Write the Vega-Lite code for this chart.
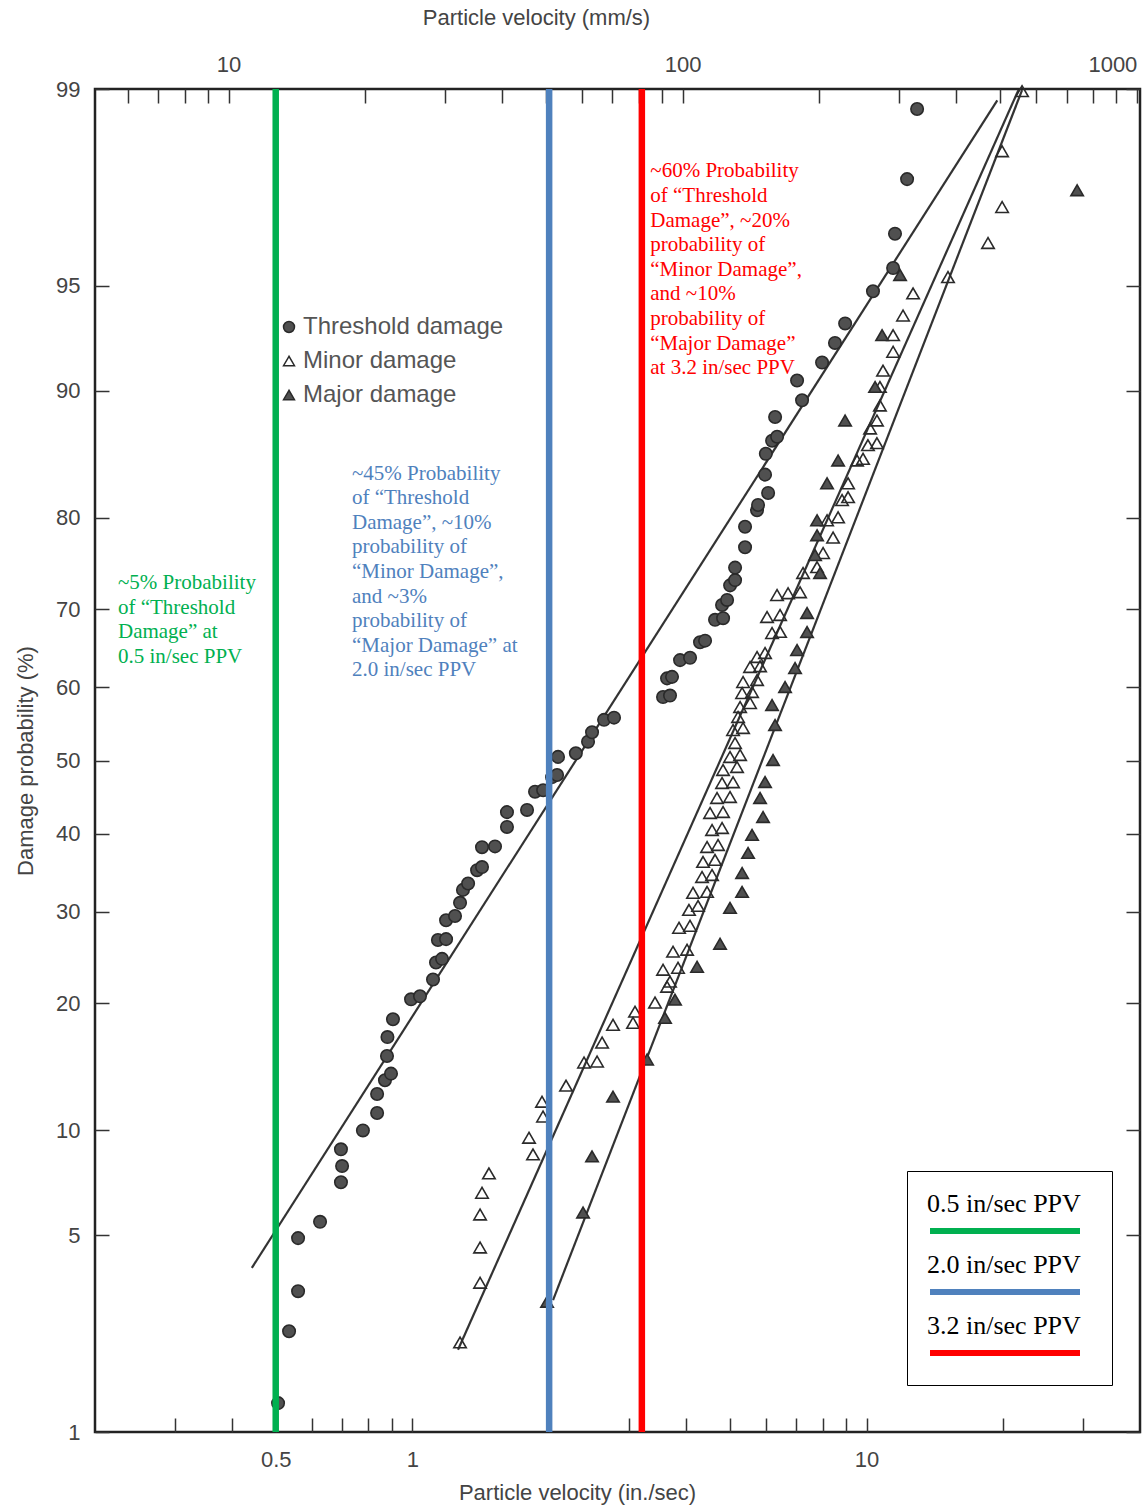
{
  "$schema": "https://vega.github.io/schema/vega-lite/v6.json",
  "width": 1045,
  "height": 1343,
  "autosize": {"type": "none"},
  "padding": {"left": 95, "top": 89, "right": 8, "bottom": 80},
  "background": "white",
  "config": {
    "view": {"stroke": "#222", "strokeWidth": 2.5},
    "font": "Liberation Sans",
    "axis": {
      "grid": false, "domain": false,
      "labelFont": "Liberation Sans", "labelFontSize": 22, "labelColor": "#444",
      "titleFont": "Liberation Sans", "titleFontSize": 22, "titleFontWeight": "normal", "titleColor": "#444",
      "tickColor": "#333", "tickWidth": 1.5, "tickSize": -14, "labelOverlap": false
    }
  },
  "datasets": {
    "fits": [
      {"fit": "Threshold", "v": 0.443, "p": 3.94}, {"fit": "Threshold", "v": 19.4, "p": 98.89},
      {"fit": "Minor", "v": 1.26, "p": 2.06}, {"fit": "Minor", "v": 21.6, "p": 98.99},
      {"fit": "Major", "v": 2.04, "p": 3.08}, {"fit": "Major", "v": 22.0, "p": 98.99}
    ],
    "ppv": [
      {"v": 0.5, "label": "0.5 in/sec PPV"},
      {"v": 2.0, "label": "2.0 in/sec PPV"},
      {"v": 3.2, "label": "3.2 in/sec PPV"}
    ],
    "notes": [
      {"v": 0.2247, "p": 74.3, "label": "0.5 in/sec PPV", "text": "~5% Probability\nof “Threshold\nDamage” at\n0.5 in/sec PPV"},
      {"v": 0.736, "p": 84.9, "label": "2.0 in/sec PPV", "text": "~45% Probability\nof “Threshold\nDamage”, ~10%\nprobability of\n“Minor Damage”,\nand ~3%\nprobability of\n“Major Damage” at\n2.0 in/sec PPV"},
      {"v": 3.34, "p": 98.12, "label": "3.2 in/sec PPV", "text": "~60% Probability\nof “Threshold\nDamage”, ~20%\nprobability of\n“Minor Damage”,\nand ~10%\nprobability of\n“Major Damage”\nat 3.2 in/sec PPV"}
    ],
    "points": [
      {"damage": "Threshold damage", "v": 0.506, "p": 1.3},
      {"damage": "Threshold damage", "v": 0.535, "p": 2.4},
      {"damage": "Threshold damage", "v": 0.56, "p": 3.3},
      {"damage": "Threshold damage", "v": 0.56, "p": 4.9},
      {"damage": "Threshold damage", "v": 0.626, "p": 5.5},
      {"damage": "Threshold damage", "v": 0.696, "p": 7.2},
      {"damage": "Threshold damage", "v": 0.7, "p": 8.0},
      {"damage": "Threshold damage", "v": 0.696, "p": 8.9},
      {"damage": "Threshold damage", "v": 0.778, "p": 10.0},
      {"damage": "Threshold damage", "v": 0.836, "p": 11.1},
      {"damage": "Threshold damage", "v": 0.836, "p": 12.4},
      {"damage": "Threshold damage", "v": 0.87, "p": 13.4},
      {"damage": "Threshold damage", "v": 0.897, "p": 13.9},
      {"damage": "Threshold damage", "v": 0.879, "p": 15.3},
      {"damage": "Threshold damage", "v": 0.881, "p": 16.9},
      {"damage": "Threshold damage", "v": 0.906, "p": 18.5},
      {"damage": "Threshold damage", "v": 0.993, "p": 20.4},
      {"damage": "Threshold damage", "v": 1.039, "p": 20.7},
      {"damage": "Threshold damage", "v": 1.11, "p": 22.4},
      {"damage": "Threshold damage", "v": 1.127, "p": 24.2},
      {"damage": "Threshold damage", "v": 1.162, "p": 24.6},
      {"damage": "Threshold damage", "v": 1.138, "p": 26.7},
      {"damage": "Threshold damage", "v": 1.186, "p": 26.8},
      {"damage": "Threshold damage", "v": 1.186, "p": 29.0},
      {"damage": "Threshold damage", "v": 1.241, "p": 29.5},
      {"damage": "Threshold damage", "v": 1.273, "p": 31.1},
      {"damage": "Threshold damage", "v": 1.292, "p": 32.7},
      {"damage": "Threshold damage", "v": 1.326, "p": 33.5},
      {"damage": "Threshold damage", "v": 1.388, "p": 35.2},
      {"damage": "Threshold damage", "v": 1.423, "p": 35.6},
      {"damage": "Threshold damage", "v": 1.423, "p": 38.2},
      {"damage": "Threshold damage", "v": 1.52, "p": 38.3},
      {"damage": "Threshold damage", "v": 1.615, "p": 40.9},
      {"damage": "Threshold damage", "v": 1.615, "p": 42.9},
      {"damage": "Threshold damage", "v": 1.788, "p": 43.2},
      {"damage": "Threshold damage", "v": 1.862, "p": 45.7},
      {"damage": "Threshold damage", "v": 1.94, "p": 45.9},
      {"damage": "Threshold damage", "v": 2.03, "p": 47.7},
      {"damage": "Threshold damage", "v": 2.082, "p": 48.0},
      {"damage": "Threshold damage", "v": 2.092, "p": 50.5},
      {"damage": "Threshold damage", "v": 2.29, "p": 51.0},
      {"damage": "Threshold damage", "v": 2.436, "p": 52.6},
      {"damage": "Threshold damage", "v": 2.486, "p": 53.9},
      {"damage": "Threshold damage", "v": 2.642, "p": 55.6},
      {"damage": "Threshold damage", "v": 2.779, "p": 55.9},
      {"damage": "Threshold damage", "v": 3.563, "p": 58.7},
      {"damage": "Threshold damage", "v": 3.691, "p": 58.9},
      {"damage": "Threshold damage", "v": 3.636, "p": 61.2},
      {"damage": "Threshold damage", "v": 3.729, "p": 61.4},
      {"damage": "Threshold damage", "v": 3.884, "p": 63.6},
      {"damage": "Threshold damage", "v": 4.086, "p": 63.9},
      {"damage": "Threshold damage", "v": 4.298, "p": 65.9},
      {"damage": "Threshold damage", "v": 4.409, "p": 66.1},
      {"damage": "Threshold damage", "v": 4.638, "p": 68.7},
      {"damage": "Threshold damage", "v": 4.831, "p": 68.9},
      {"damage": "Threshold damage", "v": 4.806, "p": 70.5},
      {"damage": "Threshold damage", "v": 4.93, "p": 71.1},
      {"damage": "Threshold damage", "v": 5.006, "p": 72.8},
      {"damage": "Threshold damage", "v": 5.134, "p": 73.4},
      {"damage": "Threshold damage", "v": 5.134, "p": 74.8},
      {"damage": "Threshold damage", "v": 5.4, "p": 77.0},
      {"damage": "Threshold damage", "v": 5.4, "p": 79.1},
      {"damage": "Threshold damage", "v": 5.738, "p": 80.7},
      {"damage": "Threshold damage", "v": 5.768, "p": 81.2},
      {"damage": "Threshold damage", "v": 6.07, "p": 82.3},
      {"damage": "Threshold damage", "v": 5.976, "p": 83.9},
      {"damage": "Threshold damage", "v": 6.0, "p": 85.6},
      {"damage": "Threshold damage", "v": 6.194, "p": 86.6},
      {"damage": "Threshold damage", "v": 6.353, "p": 86.9},
      {"damage": "Threshold damage", "v": 6.289, "p": 88.3},
      {"damage": "Threshold damage", "v": 7.21, "p": 89.4},
      {"damage": "Threshold damage", "v": 7.03, "p": 90.6},
      {"damage": "Threshold damage", "v": 7.98, "p": 91.6},
      {"damage": "Threshold damage", "v": 8.52, "p": 92.6},
      {"damage": "Threshold damage", "v": 8.97, "p": 93.5},
      {"damage": "Threshold damage", "v": 10.33, "p": 94.8},
      {"damage": "Threshold damage", "v": 11.44, "p": 95.6},
      {"damage": "Threshold damage", "v": 11.55, "p": 96.6},
      {"damage": "Threshold damage", "v": 12.28, "p": 97.8},
      {"damage": "Threshold damage", "v": 12.92, "p": 98.8},
      {"damage": "Minor damage", "v": 1.273, "p": 2.19},
      {"damage": "Minor damage", "v": 1.409, "p": 3.52},
      {"damage": "Minor damage", "v": 1.409, "p": 4.58},
      {"damage": "Minor damage", "v": 1.409, "p": 5.79},
      {"damage": "Minor damage", "v": 1.423, "p": 6.71},
      {"damage": "Minor damage", "v": 1.474, "p": 7.63},
      {"damage": "Minor damage", "v": 1.843, "p": 8.62},
      {"damage": "Minor damage", "v": 1.806, "p": 9.56},
      {"damage": "Minor damage", "v": 1.939, "p": 10.87},
      {"damage": "Minor damage", "v": 1.929, "p": 11.86},
      {"damage": "Minor damage", "v": 2.179, "p": 13.0},
      {"damage": "Minor damage", "v": 2.387, "p": 14.77},
      {"damage": "Minor damage", "v": 2.55, "p": 14.85},
      {"damage": "Minor damage", "v": 2.616, "p": 16.42},
      {"damage": "Minor damage", "v": 2.765, "p": 17.99},
      {"damage": "Minor damage", "v": 3.06, "p": 18.17},
      {"damage": "Minor damage", "v": 3.091, "p": 19.21},
      {"damage": "Minor damage", "v": 3.421, "p": 20.08},
      {"damage": "Minor damage", "v": 3.636, "p": 21.66},
      {"damage": "Minor damage", "v": 3.691, "p": 22.18},
      {"damage": "Minor damage", "v": 3.563, "p": 23.43},
      {"damage": "Minor damage", "v": 3.844, "p": 23.63},
      {"damage": "Minor damage", "v": 3.748, "p": 25.39},
      {"damage": "Minor damage", "v": 4.024, "p": 25.6},
      {"damage": "Minor damage", "v": 3.864, "p": 28.11},
      {"damage": "Minor damage", "v": 4.085, "p": 28.34},
      {"damage": "Minor damage", "v": 4.064, "p": 30.24},
      {"damage": "Minor damage", "v": 4.255, "p": 30.72},
      {"damage": "Minor damage", "v": 4.148, "p": 32.33},
      {"damage": "Minor damage", "v": 4.454, "p": 32.45},
      {"damage": "Minor damage", "v": 4.342, "p": 34.33},
      {"damage": "Minor damage", "v": 4.568, "p": 34.58},
      {"damage": "Minor damage", "v": 4.364, "p": 36.27},
      {"damage": "Minor damage", "v": 4.638, "p": 36.53},
      {"damage": "Minor damage", "v": 4.454, "p": 38.22},
      {"damage": "Minor damage", "v": 4.709, "p": 38.49},
      {"damage": "Minor damage", "v": 4.568, "p": 40.49},
      {"damage": "Minor damage", "v": 4.806, "p": 40.76},
      {"damage": "Minor damage", "v": 4.522, "p": 42.78},
      {"damage": "Minor damage", "v": 4.83, "p": 42.92},
      {"damage": "Minor damage", "v": 4.685, "p": 44.83},
      {"damage": "Minor damage", "v": 5.004, "p": 44.97},
      {"damage": "Minor damage", "v": 4.806, "p": 46.89},
      {"damage": "Minor damage", "v": 5.081, "p": 47.0},
      {"damage": "Minor damage", "v": 4.83, "p": 48.69},
      {"damage": "Minor damage", "v": 5.185, "p": 49.1},
      {"damage": "Minor damage", "v": 5.004, "p": 50.48},
      {"damage": "Minor damage", "v": 5.266, "p": 50.76},
      {"damage": "Minor damage", "v": 5.133, "p": 52.42},
      {"damage": "Minor damage", "v": 5.081, "p": 54.2},
      {"damage": "Minor damage", "v": 5.346, "p": 54.48},
      {"damage": "Minor damage", "v": 5.212, "p": 55.99},
      {"damage": "Minor damage", "v": 5.266, "p": 57.35},
      {"damage": "Minor damage", "v": 5.539, "p": 57.89},
      {"damage": "Minor damage", "v": 5.32, "p": 59.24},
      {"damage": "Minor damage", "v": 5.596, "p": 59.38},
      {"damage": "Minor damage", "v": 5.346, "p": 60.71},
      {"damage": "Minor damage", "v": 5.739, "p": 60.98},
      {"damage": "Minor damage", "v": 5.539, "p": 62.7},
      {"damage": "Minor damage", "v": 5.827, "p": 62.8},
      {"damage": "Minor damage", "v": 5.739, "p": 64.0},
      {"damage": "Minor damage", "v": 5.976, "p": 64.52},
      {"damage": "Minor damage", "v": 6.192, "p": 67.06},
      {"damage": "Minor damage", "v": 6.449, "p": 67.2},
      {"damage": "Minor damage", "v": 6.037, "p": 69.05},
      {"damage": "Minor damage", "v": 6.449, "p": 69.29},
      {"damage": "Minor damage", "v": 6.351, "p": 71.67},
      {"damage": "Minor damage", "v": 6.716, "p": 71.89},
      {"damage": "Minor damage", "v": 7.137, "p": 72.0},
      {"damage": "Minor damage", "v": 7.246, "p": 74.2},
      {"damage": "Minor damage", "v": 7.78, "p": 74.85},
      {"damage": "Minor damage", "v": 8.021, "p": 76.38},
      {"damage": "Minor damage", "v": 8.438, "p": 78.0},
      {"damage": "Minor damage", "v": 8.184, "p": 79.73},
      {"damage": "Minor damage", "v": 8.655, "p": 80.02},
      {"damage": "Minor damage", "v": 8.831, "p": 81.65},
      {"damage": "Minor damage", "v": 9.105, "p": 81.92},
      {"damage": "Minor damage", "v": 9.105, "p": 83.15},
      {"damage": "Minor damage", "v": 9.528, "p": 85.07},
      {"damage": "Minor damage", "v": 9.822, "p": 85.2},
      {"damage": "Minor damage", "v": 10.07, "p": 86.27},
      {"damage": "Minor damage", "v": 10.54, "p": 86.42},
      {"damage": "Minor damage", "v": 10.18, "p": 87.5},
      {"damage": "Minor damage", "v": 10.54, "p": 88.06},
      {"damage": "Minor damage", "v": 10.7, "p": 89.06},
      {"damage": "Minor damage", "v": 10.7, "p": 90.22},
      {"damage": "Minor damage", "v": 10.87, "p": 91.16},
      {"damage": "Minor damage", "v": 11.44, "p": 92.16},
      {"damage": "Minor damage", "v": 11.44, "p": 92.97},
      {"damage": "Minor damage", "v": 12.03, "p": 93.84},
      {"damage": "Minor damage", "v": 12.66, "p": 94.72},
      {"damage": "Minor damage", "v": 15.11, "p": 95.3},
      {"damage": "Minor damage", "v": 18.51, "p": 96.35},
      {"damage": "Minor damage", "v": 19.88, "p": 97.24},
      {"damage": "Minor damage", "v": 19.88, "p": 98.26},
      {"damage": "Minor damage", "v": 22.0, "p": 98.98},
      {"damage": "Major damage", "v": 1.979, "p": 3.04},
      {"damage": "Major damage", "v": 2.375, "p": 5.87},
      {"damage": "Major damage", "v": 2.486, "p": 8.51},
      {"damage": "Major damage", "v": 2.765, "p": 12.21},
      {"damage": "Major damage", "v": 3.286, "p": 15.01},
      {"damage": "Major damage", "v": 3.599, "p": 18.63},
      {"damage": "Major damage", "v": 3.786, "p": 20.37},
      {"damage": "Major damage", "v": 4.234, "p": 23.74},
      {"damage": "Major damage", "v": 4.757, "p": 26.28},
      {"damage": "Major damage", "v": 5.004, "p": 30.48},
      {"damage": "Major damage", "v": 5.32, "p": 32.45},
      {"damage": "Major damage", "v": 5.32, "p": 34.84},
      {"damage": "Major damage", "v": 5.483, "p": 37.44},
      {"damage": "Major damage", "v": 5.596, "p": 39.83},
      {"damage": "Major damage", "v": 5.916, "p": 42.24},
      {"damage": "Major damage", "v": 5.827, "p": 44.83},
      {"damage": "Major damage", "v": 5.976, "p": 47.03},
      {"damage": "Major damage", "v": 6.223, "p": 50.07},
      {"damage": "Major damage", "v": 6.287, "p": 54.89},
      {"damage": "Major damage", "v": 6.192, "p": 57.62},
      {"damage": "Major damage", "v": 6.614, "p": 60.05},
      {"damage": "Major damage", "v": 6.958, "p": 62.56},
      {"damage": "Major damage", "v": 7.029, "p": 64.9},
      {"damage": "Major damage", "v": 7.395, "p": 67.19},
      {"damage": "Major damage", "v": 7.395, "p": 69.53},
      {"damage": "Major damage", "v": 7.899, "p": 74.2},
      {"damage": "Major damage", "v": 7.701, "p": 76.17},
      {"damage": "Major damage", "v": 7.78, "p": 78.24},
      {"damage": "Major damage", "v": 7.78, "p": 79.73},
      {"damage": "Major damage", "v": 8.184, "p": 83.15},
      {"damage": "Major damage", "v": 8.655, "p": 85.07},
      {"damage": "Major damage", "v": 8.967, "p": 88.06},
      {"damage": "Major damage", "v": 10.44, "p": 90.22},
      {"damage": "Major damage", "v": 10.82, "p": 92.97},
      {"damage": "Major damage", "v": 11.85, "p": 95.37},
      {"damage": "Major damage", "v": 29.08, "p": 97.59}
    ]
  },
  "layer": [
    {
      "data": {"name": "fits"},
      "transform": [{"calculate": "quantileNormal(datum.p / 100)", "as": "z"}],
      "mark": {"type": "line", "color": "#333", "strokeWidth": 2.2},
      "encoding": {
        "x": {"field": "v", "type": "quantitative", "scale": {"type": "log", "domain": [0.2, 40], "nice": false},
          "axis": {"orient": "top", "title": "Particle velocity (mm/s)", "titleX": 441, "titlePadding": 24, "labelPadding": 27, "labelFlush": false,
            "labelAlign": {"condition": {"test": "datum.value > 30", "value": "right"}, "value": "center"},
            "values": [0.23622, 0.27559, 0.31496, 0.35433, 0.3937, 0.7874, 1.1811, 1.5748, 1.9685, 2.3622, 2.7559, 3.1496, 3.5433, 3.937, 7.874, 11.811, 15.748, 19.685, 23.622, 27.559, 31.496, 35.433, 39.37],
            "labelExpr": "abs(datum.value - 0.3937) < 0.001 ? '10' : abs(datum.value - 3.937) < 0.001 ? '100' : abs(datum.value - 39.37) < 0.01 ? '1000' : ''"}},
        "y": {"field": "z", "type": "quantitative", "scale": {"domain": [-2.3263, 2.3263], "nice": false, "zero": false},
          "axis": {"orient": "right", "title": null, "labels": false,
            "values": [-2.3263, -1.6449, -1.2816, -0.8416, -0.5244, -0.2533, 0, 0.2533, 0.5244, 0.8416, 1.2816, 1.6449, 2.3263]}},
        "detail": {"field": "fit"}
      }
    },
    {
      "data": {"name": "points"},
      "transform": [{"calculate": "quantileNormal(datum.p / 100)", "as": "z"}],
      "mark": {"type": "point", "strokeWidth": 1.6, "size": 155, "opacity": 1},
      "encoding": {
        "x": {"field": "v", "type": "quantitative", "scale": {"type": "log", "domain": [0.2, 40], "nice": false},
          "axis": {"orient": "bottom", "title": "Particle velocity (in./sec)", "titleX": 482, "titlePadding": 12, "labelPadding": 31,
            "values": [0.3, 0.4, 0.5, 0.6, 0.7, 0.8, 0.9, 1, 2, 3, 4, 5, 6, 7, 8, 9, 10, 20, 30],
            "labelExpr": "datum.value == 0.5 ? '0.5' : datum.value == 1 ? '1' : datum.value == 10 ? '10' : ''"}},
        "y": {"field": "z", "type": "quantitative", "scale": {"domain": [-2.3263, 2.3263], "nice": false, "zero": false},
          "axis": {"orient": "left", "title": "Damage probability (%)", "titlePadding": 18, "labelPadding": 29,
            "values": [-2.3263, -1.6449, -1.2816, -0.8416, -0.5244, -0.2533, 0, 0.2533, 0.5244, 0.8416, 1.2816, 1.6449, 2.3263],
            "labelExpr": "round(cumulativeNormal(datum.value) * 100)"}},
        "shape": {"field": "damage", "type": "nominal",
          "scale": {"domain": ["Threshold damage", "Minor damage", "Major damage"], "range": ["circle", "triangle-up", "triangle-up"]},
          "legend": {"title": null, "orient": "none", "legendX": 182, "legendY": 226, "padding": 0, "symbolSize": 120, "symbolStrokeWidth": 1.5, "labelFont": "Liberation Sans", "labelFontSize": 24, "labelColor": "#555", "labelOffset": 2, "rowPadding": 10, "labelLimit": 400}},
        "fill": {"field": "damage", "type": "nominal",
          "scale": {"domain": ["Threshold damage", "Minor damage", "Major damage"], "range": ["#505050", "transparent", "#505050"]},
          "legend": {"title": null, "orient": "none", "legendX": 182, "legendY": 226, "padding": 0, "symbolSize": 120, "symbolStrokeWidth": 1.5, "labelFont": "Liberation Sans", "labelFontSize": 24, "labelColor": "#555", "labelOffset": 2, "rowPadding": 10, "labelLimit": 400}},
        "stroke": {"field": "damage", "type": "nominal",
          "scale": {"domain": ["Threshold damage", "Minor damage", "Major damage"], "range": ["#2a2a2a", "#2a2a2a", "#2a2a2a"]},
          "legend": {"title": null, "orient": "none", "legendX": 182, "legendY": 226, "padding": 0, "symbolSize": 120, "symbolStrokeWidth": 1.5, "labelFont": "Liberation Sans", "labelFontSize": 24, "labelColor": "#555", "labelOffset": 2, "rowPadding": 10, "labelLimit": 400}}
      }
    },
    {
      "data": {"name": "ppv"},
      "mark": {"type": "rule", "strokeWidth": 6.5},
      "encoding": {
        "x": {"field": "v", "type": "quantitative", "scale": {"type": "log", "domain": [0.2, 40], "nice": false}, "axis": null},
        "color": {"field": "label", "type": "nominal",
          "scale": {"domain": ["0.5 in/sec PPV", "2.0 in/sec PPV", "3.2 in/sec PPV"], "range": ["#00B050", "#4F81BD", "#FF0000"]},
          "legend": {"title": null, "orient": "none", "legendX": 812, "legendY": 1082, "direction": "vertical", "padding": 20, "strokeColor": "black", "fillColor": "white", "cornerRadius": 0, "symbolType": "M -2 5.4 L 28 5.4", "symbolSize": 100, "symbolStrokeWidth": 6, "labelFont": "Liberation Serif", "labelFontSize": 26, "labelColor": "black", "labelOffset": -26, "rowPadding": 9, "labelLimit": 300}}
      }
    },
    {
      "data": {"name": "notes"},
      "transform": [{"calculate": "quantileNormal(datum.p / 100)", "as": "z"}],
      "mark": {"type": "text", "align": "left", "baseline": "top", "font": "Liberation Serif", "fontSize": 21, "lineHeight": 24.6, "lineBreak": "\n"},
      "encoding": {
        "x": {"field": "v", "type": "quantitative", "scale": {"type": "log", "domain": [0.2, 40], "nice": false}, "axis": null},
        "y": {"field": "z", "type": "quantitative", "scale": {"domain": [-2.3263, 2.3263], "nice": false, "zero": false}, "axis": null},
        "text": {"field": "text"},
        "color": {"field": "label", "type": "nominal",
          "scale": {"domain": ["0.5 in/sec PPV", "2.0 in/sec PPV", "3.2 in/sec PPV"], "range": ["#00B050", "#4F81BD", "#FF0000"]},
          "legend": {"title": null, "orient": "none", "legendX": 812, "legendY": 1082, "direction": "vertical", "padding": 20, "strokeColor": "black", "fillColor": "white", "cornerRadius": 0, "symbolType": "M -2 5.4 L 28 5.4", "symbolSize": 100, "symbolStrokeWidth": 6, "labelFont": "Liberation Serif", "labelFontSize": 26, "labelColor": "black", "labelOffset": -26, "rowPadding": 9, "labelLimit": 300}}
      }
    }
  ],
  "resolve": {"axis": {"x": "independent", "y": "independent"}}
}
